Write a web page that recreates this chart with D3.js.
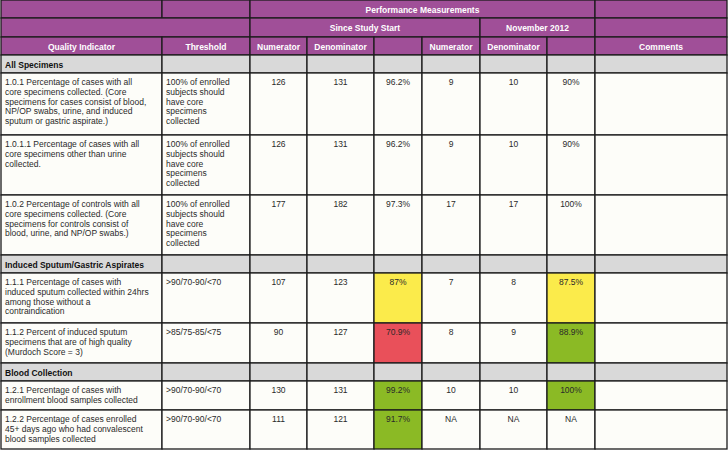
<!DOCTYPE html>
<html>
<head>
<meta charset="utf-8">
<script src="https://cdn.jsdelivr.net/npm/d3@7"></script>
<style>
  body { margin: 0; background: #fff; }
  svg { display: block; font-family: "Liberation Sans", Arial, sans-serif; }
</style>
</head>
<body>
<div id="main"></div>
<script>
// ---- table content ----
const sections = ["All Specimens", "Induced Sputum/Gastric Aspirates", "Blood Collection"];
const sectionOf = [0, 0, 0, 1, 1, 2, 2];
const indicators = [
    "1.0.1 Percentage of cases with all\ncore specimens collected. (Core\nspecimens for cases consist of blood,\nNP/OP swabs, urine, and induced\nsputum or gastric aspirate.)",
    "1.0.1.1 Percentage of cases with all\ncore specimens other than urine\ncollected.",
    "1.0.2 Percentage of controls with all\ncore specimens collected. (Core\nspecimens for controls consist of\nblood, urine, and NP/OP swabs.)",
    "1.1.1 Percentage of cases with\ninduced sputum collected within 24hrs\namong those without a\ncontraindication",
    "1.1.2 Percent of induced sputum\nspecimens that are of high quality\n(Murdoch Score = 3)",
    "1.2.1 Percentage of cases with\nenrollment blood samples collected",
    "1.2.2 Percentage of cases enrolled\n45+ days ago who had convalescent\nblood samples collected"
];
const thresholds = [
    "100% of enrolled\nsubjects should\nhave core\nspecimens\ncollected",
    "100% of enrolled\nsubjects should\nhave core\nspecimens\ncollected",
    "100% of enrolled\nsubjects should\nhave core\nspecimens\ncollected",
    ">90/70-90/<70",
    ">85/75-85/<75",
    ">90/70-90/<70",
    ">90/70-90/<70"
];
const sinceNum = ["126", "126", "177", "107", "90", "130", "111"];
const sinceDen = ["131", "131", "182", "123", "127", "131", "121"];
const sincePct = ["96.2%", "96.2%", "97.3%", "87%", "70.9%", "99.2%", "91.7%"];
const sinceStatus = ["none", "none", "none", "yellow", "red", "green", "green"];
const novNum = ["9", "9", "17", "7", "8", "10", "NA"];
const novDen = ["10", "10", "17", "8", "9", "10", "NA"];
const novPct = ["90%", "90%", "100%", "87.5%", "88.9%", "100%", "NA"];
const novStatus = ["none", "none", "none", "yellow", "green", "green", "none"];
const subHeaders = ["Quality Indicator", "Threshold", "Numerator", "Denominator", "", "Numerator", "Denominator", "", "Comments"];

// ---- layout ----
const W = 728, H = 450;
const colX = [1, 162, 250, 307, 374, 422, 480, 547, 595, 727];
const sectionH = 18;
const rowH = [62, 60, 60, 50, 40, 29, 39];

const PURPLE = "#a04f98";
const GRAY = "#d9d9d9";
const LINE = "#1c1c1c";
const FS = 8.5;
const statusColor = d3.scaleOrdinal()
    .domain(["none", "yellow", "red", "green"])
    .range(["#fdfdf9", "#fbeb4b", "#e9505a", "#8bba25"]);

const svg = d3.select("#main").append("svg").attr("width", W).attr("height", H);
const g = svg.append("g");

function cell(x0, x1, y0, y1, fill) {
    g.append("rect")
        .attr("x", x0).attr("y", y0)
        .attr("width", x1 - x0).attr("height", y1 - y0)
        .attr("fill", fill)
        .attr("stroke", LINE).attr("stroke-width", 1.3);
}

function label(txt, x, y, opts) {
    const o = Object.assign({anchor: "start", size: FS, weight: "normal", color: "#2a2a2a", lh: 9.8}, opts || {});
    const t = g.append("text")
        .attr("x", x).attr("y", y)
        .attr("text-anchor", o.anchor)
        .attr("font-size", o.size)
        .attr("font-weight", o.weight)
        .attr("fill", o.color);
    txt.split("\n").forEach((line, i) => {
        t.append("tspan").attr("x", x).attr("dy", i === 0 ? 0 : o.lh).text(line);
    });
}

// header row 1
cell(colX[0], colX[1], 0, 18, PURPLE);
cell(colX[1], colX[2], 0, 18, PURPLE);
cell(colX[2], colX[8], 0, 18, PURPLE);
cell(colX[8], colX[9], 0, 18, PURPLE);
label("Performance Measurements", (colX[2] + colX[8]) / 2, 12.5, {anchor: "middle", weight: "bold", color: "#fff"});

// header row 2
cell(colX[0], colX[2], 18, 37, PURPLE);
cell(colX[2], colX[6], 18, 37, PURPLE);
cell(colX[6], colX[8], 18, 37, PURPLE);
cell(colX[8], colX[9], 18, 37, PURPLE);
label("Since Study Start", (colX[2] + colX[6]) / 2, 31, {anchor: "middle", weight: "bold", color: "#fff"});
label("November 2012", (colX[6] + colX[8]) / 2, 31, {anchor: "middle", weight: "bold", color: "#fff"});

// header row 3
subHeaders.forEach((h, i) => {
    cell(colX[i], colX[i + 1], 37, 55, PURPLE);
    if (h) label(h, (colX[i] + colX[i + 1]) / 2, 49.5, {anchor: "middle", weight: "bold", color: "#fff"});
});

// body
let y = 55;
let lastSection = -1;
indicators.forEach((ind, r) => {
    if (sectionOf[r] !== lastSection) {
        lastSection = sectionOf[r];
        for (let c = 0; c < 9; c++) cell(colX[c], colX[c + 1], y, y + sectionH, GRAY);
        label(sections[lastSection], colX[0] + 4, y + 12.5, {weight: "bold", color: "#111"});
        y += sectionH;
    }
    const y1 = y + rowH[r];
    const vals = [ind, thresholds[r], sinceNum[r], sinceDen[r], sincePct[r], novNum[r], novDen[r], novPct[r], ""];
    vals.forEach((v, c) => {
        let fill = statusColor("none");
        if (c === 4) fill = statusColor(sinceStatus[r]);
        if (c === 7) fill = statusColor(novStatus[r]);
        cell(colX[c], colX[c + 1], y, y1, fill);
        if (!v) return;
        if (c < 2) label(v, colX[c] + 4, y + 12);
        else label(v, (colX[c] + colX[c + 1]) / 2, y + 12, {anchor: "middle"});
    });
    y = y1;
});
</script>
</body>
</html>
